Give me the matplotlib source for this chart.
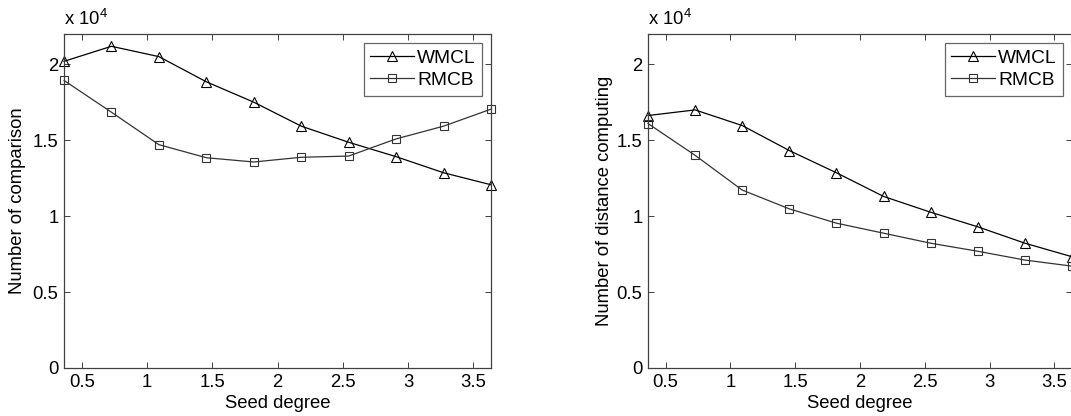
import matplotlib
matplotlib.use("Agg")
import matplotlib.pyplot as plt
from matplotlib.ticker import FuncFormatter

plt.rcParams["font.family"] = ["Liberation Sans", "DejaVu Sans"]
plt.rcParams["mathtext.fontset"] = "custom"
plt.rcParams["mathtext.rm"] = "Liberation Sans"

# ── data ────────────────────────────────────────────────────────────────────
seed_degree = [0.364, 0.727, 1.091, 1.455, 1.818, 2.182, 2.545, 2.909, 3.273, 3.636]

cmp_wmcl = [20200, 21190, 20510, 18850, 17510, 15930, 14870, 13920, 12860, 12070]
cmp_rmcb = [18940, 16850, 14710, 13850, 13570, 13880, 13960, 15090, 15930, 17050]

dist_wmcl = [16630, 17000, 15970, 14320, 12860, 11300, 10260, 9300, 8220, 7330]
dist_rmcb = [16100, 14010, 11720, 10480, 9540, 8880, 8220, 7690, 7110, 6710]

series_names = ["WMCL", "RMCB"]
ylabels = ["Number of comparison", "Number of distance computing"]
xlabel = "Seed degree"

FS = 13.3
LEG_FS = 13.8
SPINE = "#404040"

fig = plt.figure(figsize=(10.71, 4.16), dpi=100)
ax_l = fig.add_axes([64 / 1071, 48 / 416, 427 / 1071, 334 / 416])
ax_r = fig.add_axes([648 / 1071, 48 / 416, 424 / 1071, 334 / 416])

panels = [(ax_l, cmp_wmcl, cmp_rmcb, ylabels[0], -0.089),
          (ax_r, dist_wmcl, dist_rmcb, ylabels[1], -0.083)]

for ax, wmcl, rmcb, ylab, ylab_x in panels:
    ax.plot(seed_degree, wmcl, color="black", lw=0.9, marker="^", ms=7,
            mfc="none", mec="black", mew=0.8, label=series_names[0], clip_on=False)
    ax.plot(seed_degree, rmcb, color="#333333", lw=0.9, marker="s", ms=6,
            mfc="none", mec="#333333", mew=0.8, label=series_names[1], clip_on=False)

    ax.set_xlim(4 / 11, 40 / 11)
    ax.set_ylim(0, 22000)
    ax.set_xticks([0.5, 1, 1.5, 2, 2.5, 3, 3.5])
    ax.set_xticklabels(["0.5", "1", "1.5", "2", "2.5", "3", "3.5"])
    ax.set_yticks([0, 5000, 10000, 15000, 20000])
    ax.yaxis.set_major_formatter(FuncFormatter(lambda v, p: f"{v / 1e4:g}"))

    ax.tick_params(direction="in", top=True, right=True, length=4, width=0.7,
                   color=SPINE, labelsize=FS, pad=4)
    for s in ax.spines.values():
        s.set_color(SPINE)
        s.set_linewidth(0.9)

    ax.set_xlabel(xlabel, fontsize=FS, labelpad=3.5)
    ax.set_ylabel(ylab, fontsize=FS)
    ax.yaxis.set_label_coords(ylab_x, 0.5)

    ax.text(0.0, 1.015, r"x 10$^{4}$", transform=ax.transAxes,
            ha="left", va="bottom", fontsize=FS)

    leg = ax.legend(loc="upper right", fontsize=LEG_FS, frameon=True, fancybox=False,
                    handlelength=2.3, handletextpad=0.15, borderpad=0.35,
                    labelspacing=0.25, borderaxespad=0.45)
    leg.get_frame().set_edgecolor(SPINE)
    leg.get_frame().set_linewidth(0.9)

fig.savefig("out.png", dpi=100)
